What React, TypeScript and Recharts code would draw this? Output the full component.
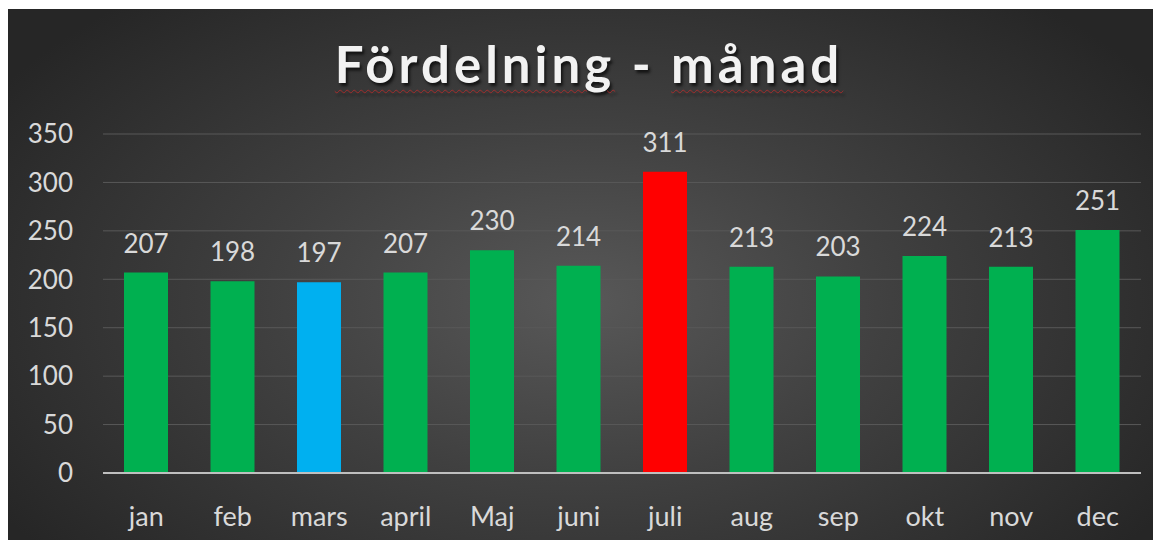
import React from "react";
import { BarChart, Bar, XAxis, YAxis, CartesianGrid, Cell, LabelList } from "recharts";

const months = ["jan", "feb", "mars", "april", "Maj", "juni", "juli", "aug", "sep", "okt", "nov", "dec"];
const counts = [207, 198, 197, 207, 230, 214, 311, 213, 203, 224, 213, 251];
const barColors = ["#00B050", "#00B050", "#00B0F0", "#00B050", "#00B050", "#00B050", "#FF0000", "#00B050", "#00B050", "#00B050", "#00B050", "#00B050"];
const yTicks = [0, 50, 100, 150, 200, 250, 300, 350];
const titleWords = ["Fördelning", "-", "månad"];

const data = months.map((m, i) => ({ month: m, value: counts[i], color: barColors[i] }));

const W = 1148;
const H = 531;
const FONT = "Lato, 'Open Sans', sans-serif";

const wavy: React.CSSProperties = {
  textDecorationLine: "underline",
  textDecorationStyle: "wavy",
  textDecorationColor: "rgba(200,40,40,0.7)",
  textDecorationThickness: "1px",
  textUnderlineOffset: "6px",
};

export default function App() {
  return (
    <div
      style={{
        position: "relative",
        width: W,
        height: H,
        marginLeft: -1,
        marginTop: 1,
        background: "radial-gradient(ellipse 60% 75% at 50% 55%, #585858 0%, #404040 45%, #262626 100%)",
        fontFamily: FONT,
      }}
    >
      <div
        style={{
          position: "absolute",
          left: 8,
          top: 25,
          width: W,
          textAlign: "center",
          fontSize: 51,
          fontWeight: 700,
          letterSpacing: 4,
          color: "#f2f2f2",
          lineHeight: "60px",
          textShadow: "2px 3px 3px rgba(0,0,0,0.65)",
        }}
      >
        <span style={wavy}>{titleWords[0]}</span> {titleWords[1]} <span style={wavy}>{titleWords[2]}</span>
      </div>
      <BarChart
        width={W}
        height={H}
        data={data}
        margin={{ top: 125, right: 14, bottom: 0, left: 0 }}
        barSize={44}
        style={{ position: "absolute", left: 0, top: 0 }}
      >
        <CartesianGrid vertical={false} stroke="#595959" strokeWidth={1} />
        <XAxis
          dataKey="month"
          height={67}
          tickLine={false}
          axisLine={{ stroke: "#bfbfbf", strokeWidth: 2 }}
          tick={{ fill: "#d9d9d9", fontSize: 27, fontFamily: FONT }}
          tickMargin={28}
          interval={0}
        />
        <YAxis
          width={96}
          domain={[0, 350]}
          ticks={yTicks}
          tickLine={false}
          axisLine={false}
          tick={{ fill: "#d9d9d9", fontSize: 26, fontFamily: FONT }}
          tickMargin={24}
          interval={0}
        />
        <Bar dataKey="value" isAnimationActive={false}>
          {data.map((d, i) => (
            <Cell key={i} fill={d.color} />
          ))}
          <LabelList
            dataKey="value"
            position="top"
            offset={20}
            fill="#d9d9d9"
            fontSize={26}
            fontFamily={FONT}
          />
        </Bar>
      </BarChart>
    </div>
  );
}
